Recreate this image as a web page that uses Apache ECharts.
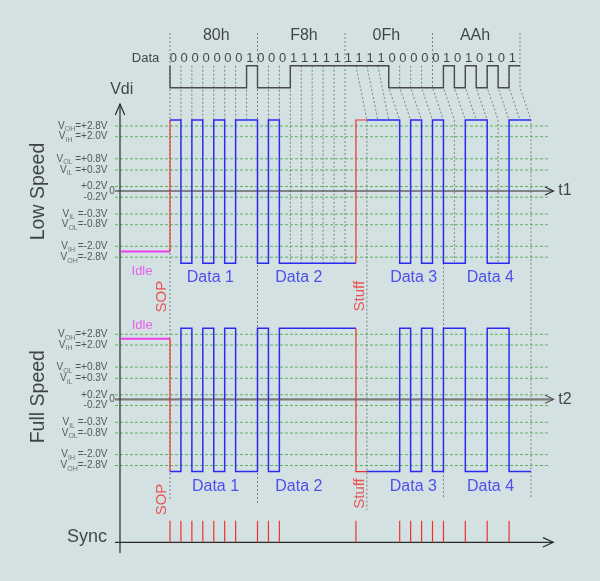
<!DOCTYPE html>
<html><head><meta charset="utf-8">
<script src="https://cdn.jsdelivr.net/npm/echarts/dist/echarts.min.js"></script>
<style>html,body{margin:0;padding:0;background:#d3e1e2}#c{width:600px;height:581px}</style>
</head><body><div id="c"></div>
<script>
// ---------------- data ----------------
const byteNames = ['80h', 'F8h', '0Fh', 'AAh'];
const dataBits = [0,0,0,0,0,0,0,1, 0,0,0,1,1,1,1,1, 1,1,1,1,0,0,0,0, 0,1,0,1,0,1,0,1];
const stuffSlot = 17;
// NRZI line state per bit slot (1 = positive, 0 = negative), including the stuffed bit
const lowSpeedSlots  = [1,0,1,0,1,0,1,1,0,1,0,0,0,0,0,0,0,1,1,1,1,0,1,0,1,0,0,1,1,0,0,1,1];
const fullSpeedSlots = [0,1,0,1,0,1,0,0,1,0,1,1,1,1,1,1,1,0,0,0,0,1,0,1,0,1,1,0,0,1,1,0,0];
const syncBits = [0,1,2,3,4,5,6,8,9,10,17,21,22,23,24,25,27,29,31];
const levelLabels = ['V{s|OH}=+2.8V','V{s|IH} =+2.0V','V{s|OL} =+0.8V','V{s|IL} =+0.3V','+0.2V','-0.2V',
                     'V{s|IL} =-0.3V','V{s|OL}=-0.8V','V{s|IH} =-2.0V','V{s|OH}=-2.8V'];
// schematic (non-linear) vertical scale position of each level
const levelScalePos = [65, 54.3, 32.2, 21, 4.5, -6.2, -23, -33.7, -55.3, -66.2];
const byteLabels = ['Data 1', 'Data 2', 'Data 3', 'Data 4'];

// ---------------- layout ----------------
const BIT_PX = 87.5 / 8, X0_PX = 170, Y0_PX = 191;
const px = v => (v - X0_PX) / BIT_PX;   // decoration x in axis units
const py = v => Y0_PX - v;              // decoration y in axis units
const LS = 0, FS = -208.3;
const HI = 71, LO = -72.3, IDLE = 60.5;
const DATA_HI = py(65.7), DATA_LO = py(87.7), BYTE_TOP = py(33);
const SYNC_Y = py(542.3);
const FONT = 'Liberation Sans, Arial, sans-serif';
const BLUE = '#2b2bf0', RED = '#f03030', PINK = '#ec40ec';

const waveY = (lane, s) => lane + (s ? HI : LO);

// green level lines
const green = [];
[LS, FS].forEach(z => levelScalePos.forEach(v => green.push({coords: [[px(115), z + v], [px(548), z + v]]})));

// gray projection lines
const longEnd = {0: py(500), 8: py(505), 18: py(510), 25: py(498), 33: py(498)};
function lsStop(w) {
  const a = lowSpeedSlots[w - 1], b = lowSpeedSlots[w];
  return (a === 0 && b === 0) ? waveY(LS, 0) : waveY(LS, 1);
}
const gray = [];
for (let k = 0; k <= dataBits.length; k++) {
  const top = (k % 8 === 0) ? BYTE_TOP : DATA_HI;
  if (k < stuffSlot) {
    const end = (k in longEnd) ? longEnd[k] : lsStop(k);
    gray.push({coords: [[k, top], [k, end]]});
  } else {
    const dl = dataBits[k - 1], dr = k < dataBits.length ? dataBits[k] : 0;
    const s = (dl === 1 && dr === 1) ? DATA_HI : DATA_LO;
    const w = k + 1;
    const end = (w in longEnd) ? longEnd[w] : lsStop(w);
    gray.push({coords: [[k, top], [k, s], [w, waveY(LS, 1)], [w, end]]});
  }
}

// waveforms
function slotPath(slots, yOf, from, to) {
  const pts = [];
  for (let k = from; k < to; k++) { const y = yOf(slots[k]); pts.push([k, y], [k + 1, y]); }
  return pts;
}
const dataPath = [[0, DATA_HI]].concat(slotPath(dataBits, b => b ? DATA_HI : DATA_LO, 0, dataBits.length));

function laneWaves(slots, lane, idleY) {
  const yOf = s => waveY(lane, s);
  const n = slots.length;
  return [
    {coords: [[px(121), idleY], [0, idleY]], lineStyle: {color: PINK, width: 2}},
    {coords: [[0, idleY], [0, yOf(slots[0])]], lineStyle: {color: RED, width: 1.2}},
    {coords: slotPath(slots, yOf, 0, stuffSlot), lineStyle: {color: BLUE, width: 1.5}},
    {coords: [[stuffSlot, yOf(slots[stuffSlot - 1])], [stuffSlot, yOf(slots[stuffSlot])], [stuffSlot + 1, yOf(slots[stuffSlot])]], lineStyle: {color: RED, width: 1.2}},
    {coords: slotPath(slots, yOf, stuffSlot + 1, n), lineStyle: {color: BLUE, width: 1.5}}
  ];
}
const waves = [{coords: dataPath, lineStyle: {color: '#4a4a4a', width: 1.4}}]
  .concat(laneWaves(lowSpeedSlots, LS, LS - IDLE))
  .concat(laneWaves(fullSpeedSlots, FS, FS + IDLE));

// axes
const dark = {color: '#2a2a2a', width: 1.2};
const axes = [
  {coords: [[px(115), LS], [px(553), LS]], lineStyle: dark},
  {coords: [[px(545), LS + 4], [px(553.5), LS], [px(545), LS - 4]], lineStyle: dark},
  {coords: [[px(115), FS], [px(553), FS]], lineStyle: {color: '#7c7c7c', width: 2.2}},
  {coords: [[px(545), FS + 4], [px(553.5), FS], [px(545), FS - 4]], lineStyle: {color: '#555', width: 1.2}},
  {coords: [[px(120), py(104)], [px(120), py(553)]], lineStyle: dark},
  {coords: [[px(115.3), py(115)], [px(120), py(104)], [px(124.7), py(115)]], lineStyle: dark},
  {coords: [[px(115), SYNC_Y], [px(553), SYNC_Y]], lineStyle: dark},
  {coords: [[px(543), SYNC_Y + 4.7], [px(553.3), SYNC_Y], [px(543), SYNC_Y - 4.7]], lineStyle: dark}
];
const syncTicks = syncBits.map(b => ({coords: [[b, SYNC_Y], [b, SYNC_Y + 21.5]]}));

// texts
const texts = [];
function txt(x, y, t, o) {
  texts.push({value: [x, y], t: t, label: Object.assign({show: true, position: 'inside', fontFamily: FONT, color: '#1c1c1c'}, o)});
}
txt(px(121.7), py(90), 'Vdi', {fontSize: 16});
txt(px(565), LS, 't1', {fontSize: 16});
txt(px(565), FS, 't2', {fontSize: 16});
txt(px(38.5), py(191.5), 'Low Speed', {fontSize: 19.5, rotate: 90});
txt(px(38.7), py(396.7), 'Full Speed', {fontSize: 19.5, rotate: 90});
txt(px(87), py(537), 'Sync', {fontSize: 18});
txt(px(145.5), py(58.3), 'Data', {fontSize: 13});
dataBits.forEach((b, k) => txt(k + 0.3, py(58.3), String(b), {fontSize: 13}));
const headerX = [4.23, 12.25, 19.78, 27.89];
byteNames.forEach((n, i) => txt(headerX[i], py(36), n, {fontSize: 16}));
[LS, FS].forEach(z => {
  levelLabels.forEach((l, i) => txt(px(107.5), z + levelScalePos[i], l, {
    fontSize: 10, color: '#333', align: 'right', lineHeight: 12,
    rich: {s: {fontSize: 7, padding: [7, 0, 0, 0], color: '#555', fontFamily: FONT}}
  }));
  txt(px(112), z, '0', {fontSize: 10, color: '#333'});
});
txt(px(142), py(271.2), 'Idle', {fontSize: 13, color: PINK});
txt(px(142.2), py(325.7), 'Idle', {fontSize: 13, color: PINK});
txt(px(161.7), py(296.7), 'SOP', {fontSize: 15, color: RED, rotate: 90});
txt(px(162), py(499.5), 'SOP', {fontSize: 15, color: RED, rotate: 90});
txt(px(359.5), py(296.2), 'Stuff', {fontSize: 15, color: RED, rotate: 90});
txt(px(360), py(493.5), 'Stuff', {fontSize: 15, color: RED, rotate: 90});
const lsLabelX = [210.3, 298.8, 413.7, 490.3], fsLabelX = [215.5, 298.8, 413.3, 490.5];
byteLabels.forEach((l, i) => {
  txt(px(lsLabelX[i]), py(278), l, {fontSize: 16, color: BLUE});
  txt(px(fsLabelX[i]), py(486.7), l, {fontSize: 16, color: BLUE});
});

const linesSeries = (data, style, z) => ({
  type: 'lines', coordinateSystem: 'cartesian2d', polyline: true, silent: true, z: z,
  lineStyle: Object.assign({opacity: 1}, style), data: data
});

const chart = echarts.init(document.getElementById('c'));
chart.setOption({
  backgroundColor: '#d3e1e2',
  animation: false,
  grid: {left: 0, right: 0, top: 0, bottom: 0},
  xAxis: {type: 'value', min: px(0), max: px(600), show: false},
  yAxis: {type: 'value', min: py(581), max: py(0), show: false},
  series: [
    linesSeries(green, {color: '#5fb35f', width: 1, type: [3, 2]}, 1),
    linesSeries(gray, {color: '#808080', width: 1, type: [2, 2]}, 2),
    linesSeries(axes, {color: '#2a2a2a', width: 1.2}, 3),
    linesSeries(syncTicks, {color: RED, width: 1.2}, 4),
    linesSeries(waves, {color: BLUE, width: 1.5}, 5),
    {
      type: 'scatter', silent: true, z: 6, symbolSize: 0,
      itemStyle: {color: 'rgba(0,0,0,0)'},
      label: {show: true, formatter: p => p.data.t},
      data: texts
    }
  ]
});
</script>
</body></html>
